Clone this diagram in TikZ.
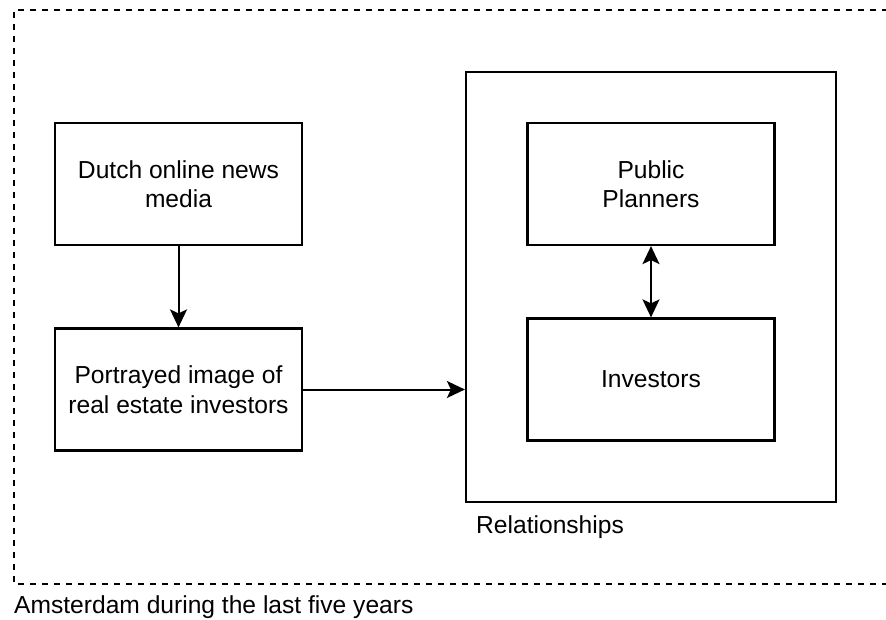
\documentclass[tikz,border=0pt]{standalone}
\usepackage{fontspec}
\setmainfont{Liberation Sans}
\usetikzlibrary{arrows.meta}
\begin{document}
\begin{tikzpicture}[x=1pt,y=-1pt,
  box/.style={draw,line width=2.2pt,minimum width=247pt,minimum height=122pt,align=center,font=\fontsize{24.6}{29.5}\selectfont,inner sep=0pt},
  lbl/.style={font=\fontsize{24.6}{29.5}\selectfont,inner sep=0pt},
  tip/.tip={Stealth[length=18pt,width=17pt,inset=4pt]},
  conn/.style={line width=2pt,-tip},
  biconn/.style={line width=2pt,tip-tip}]
\useasboundingbox (0,0) rectangle (886,620);
\draw[line width=2pt,dash pattern=on 6pt off 6pt] (900,10) -- (14,10) -- (14,584) -- (900,584);
\node[lbl,anchor=base west] (ams) at (14,613) {Amsterdam during the last five years};
\node[box] (news) at (178.5,184) {Dutch online news\\media};
\node[box] (img) at (178.5,389.5) {Portrayed image of\\real estate investors};
\node[draw,line width=2.2pt,minimum width=370pt,minimum height=430pt,inner sep=0pt] (rel) at (651,287) {};
\node[lbl,anchor=base west] (rellbl) at (476,533) {Relationships};
\node[box] (pp) at (651,184) {Public\\Planners};
\node[box] (inv) at (651,379.5) {Investors};
\draw[conn] (news) -- (img);
\draw[conn] (img.east) -- (img.east -| rel.west);
\draw[biconn] (pp) -- (inv);
\end{tikzpicture}
\end{document}
